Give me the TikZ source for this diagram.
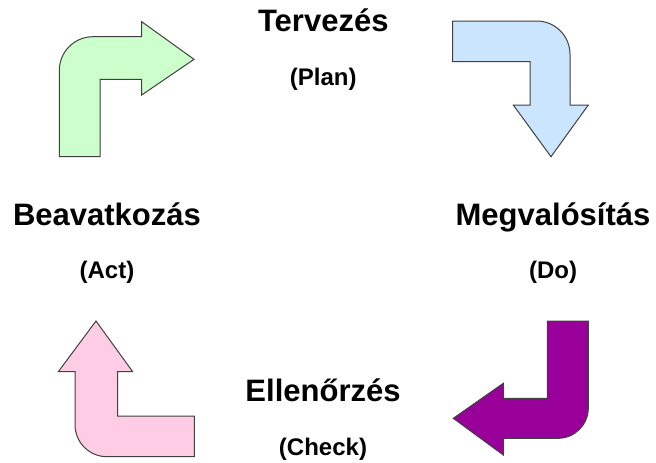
\documentclass[tikz,border=0pt]{standalone}
\usepackage{fontspec}
\setmainfont{Liberation Sans}
\usetikzlibrary{positioning}
\definecolor{planFill}{RGB}{204,255,204}
\definecolor{doFill}{RGB}{204,229,255}
\definecolor{checkFill}{RGB}{153,0,153}
\definecolor{actFill}{RGB}{255,204,229}
\tikzstyle{phase} = [inner sep = 0pt,
			text depth = 6pt,
			font = \fontsize{23.25pt}{28pt}\selectfont\bfseries]
\tikzstyle{english} = [inner sep = 0pt,
			text height = 13.5pt,
			font = \fontsize{18pt}{22pt}\selectfont\bfseries]
\tikzstyle{turn} = [draw = black!75, line width = 0.75pt]

\begin{document}
\begin{tikzpicture}[x = 0.75pt, y = -0.75pt, node distance = 20.25pt]
	\useasboundingbox (0,0) rectangle (656,462);
	\node [phase, anchor = base] (plan) at (323.3,31.7) {Tervezés};
	\node [english, below=of plan] (planEn) {(Plan)};
	\node [phase, anchor = base] (do) at (553,225) {Megvalósítás};
	\node [english, below=of do] (doEn) {(Do)};
	\node [phase, anchor = base] (check) at (323,401.7) {Ellenőrzés};
	\node [english, below=of check] (checkEn) {(Check)};
	\node [phase, anchor = base] (act) at (107,225) {Beavatkozás};
	\node [english, below=of act] (actEn) {(Act)};
	% plan arrow
	\path [turn, fill = planFill] (59.3,156.7) -- (100,156.7) -- (100,79.3) -- (141.7,79.3) -- (141.7,95)
		-- (194,59.3) -- (141.7,21.7) -- (141.7,36.7) -- (93,36.7)
		.. controls (74.4,36.7) and (59.3,51.8) .. (59.3,70.4) -- cycle;
	% do arrow
	\path [turn, fill = doFill] (452.7,21) -- (536.7,21)
		.. controls (555.1,21) and (570,35.9) .. (570,54.3) -- (570,105) -- (588.3,105)
		-- (551,156.7) -- (513.3,105) -- (530,105) -- (530,61.7) -- (452.7,61.7) -- cycle;
	% check arrow
	\path [turn, fill = checkFill] (547.3,321) -- (588.3,321) -- (588.3,408)
		.. controls (588.3,424.7) and (574.7,438.3) .. (558,438.3) -- (503.3,438.3) -- (503.3,455)
		-- (453.3,418.3) -- (503.3,383.3) -- (503.3,398.3) -- (547.3,398.3) -- cycle;
	% act arrow
	\path [turn, fill = actFill] (96,321) -- (132.7,371.7) -- (117.7,371.7) -- (117.7,416) -- (194.3,416)
		-- (194.3,456.7) -- (107,456.7) .. controls (89.3,456.7) and (75,442.4) .. (75,424.7)
		-- (75,371.7) -- (58.3,371.7) -- cycle;
\end{tikzpicture}
\end{document}
